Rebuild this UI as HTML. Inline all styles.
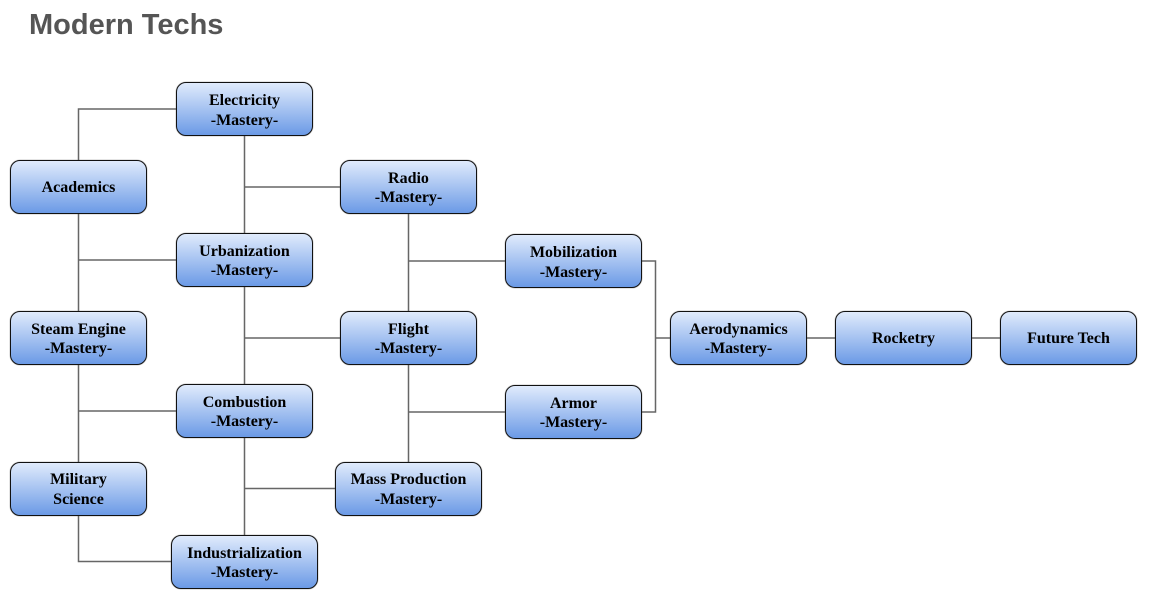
<!DOCTYPE html>
<html><head><meta charset="utf-8">
<style>
html,body{margin:0;padding:0;background:#fff;width:1152px;height:607px;overflow:hidden;position:relative}
h1{position:absolute;left:29px;top:8px;margin:0;font:bold 29px/34px "Liberation Sans",sans-serif;color:#555}
svg{position:absolute;left:0;top:0}
.n{position:absolute;box-sizing:border-box;height:54px;border:1px solid #111;border-radius:10px;padding-top:3px;
background:linear-gradient(#e0ebfc,#6b9ae6);text-align:center;
font:bold 16px/19.5px "Liberation Serif",serif;color:#000;
display:flex;align-items:center;justify-content:center;box-shadow:0 0 1px #555}
.u{position:relative;top:-1px}
</style></head><body>
<h1>Modern Techs</h1>
<svg width="1152" height="607" fill="none" stroke="#666" stroke-width="1.5">
<path d="M176 109H78.5V561.5H172"/>
<path d="M78.5 260H176M78.5 411H176"/>
<path d="M244.5 136V535M244.5 187H340M244.5 338H340M244.5 488.500H336"/>
<path d="M408.500 214V462M408.500 261H505M408.500 412H505"/>
<path d="M642 261H655.500V412H642M655.500 338H670M807 338H835M972 338H1000"/>
</svg>
<div class="n" style="left:176px;top:82px;width:137px"><span>Electricity<br>-Mastery-</span></div>
<div class="n" style="left:10px;top:160px;width:137px"><span class="u">Academics</span></div>
<div class="n" style="left:340px;top:160px;width:137px"><span>Radio<br><span class="u">-Mastery-</span></span></div>
<div class="n" style="left:176px;top:233px;width:137px"><span>Urbanization<br><span class="u">-Mastery-</span></span></div>
<div class="n" style="left:505px;top:234px;width:137px"><span>Mobilization<br>-Mastery-</span></div>
<div class="n" style="left:10px;top:311px;width:137px"><span>Steam Engine<br><span class="u">-Mastery-</span></span></div>
<div class="n" style="left:340px;top:311px;width:137px"><span>Flight<br><span class="u">-Mastery-</span></span></div>
<div class="n" style="left:670px;top:311px;width:137px"><span>Aerodynamics<br><span class="u">-Mastery-</span></span></div>
<div class="n" style="left:835px;top:311px;width:137px"><span class="u">Rocketry</span></div>
<div class="n" style="left:1000px;top:311px;width:137px"><span class="u">Future Tech</span></div>
<div class="n" style="left:176px;top:384px;width:137px"><span>Combustion<br><span class="u">-Mastery-</span></span></div>
<div class="n" style="left:505px;top:385px;width:137px"><span>Armor<br><span class="u">-Mastery-</span></span></div>
<div class="n" style="left:10px;top:462px;width:137px"><span class="u">Military<br>Science</span></div>
<div class="n" style="left:335px;top:462px;width:147px"><span class="u">Mass Production<br>-Mastery-</span></div>
<div class="n" style="left:171px;top:535px;width:147px"><span>Industrialization<br><span class="u">-Mastery-</span></span></div>
</body></html>
